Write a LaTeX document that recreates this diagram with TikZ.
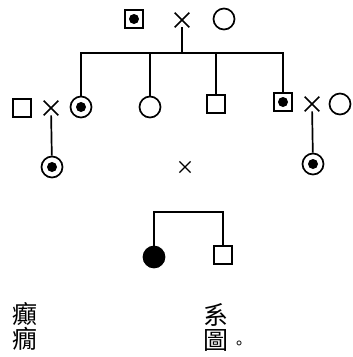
\documentclass[tikz,border=0pt]{standalone}
\usepackage{fontspec}
\newfontfamily\cjk{Noto Sans CJK TC}
\usetikzlibrary{shapes.misc}
\tikzset{
  male/.style={draw,rectangle,minimum size=18pt,inner sep=0pt},
  female/.style={draw,circle,minimum size=21pt,inner sep=0pt},
  carrier/.style={path picture={\fill (path picture bounding box.center) circle (5pt);}},
  sick/.style={fill=black},
  wed/.style={draw,cross out,minimum size=13pt,inner sep=0pt},
  glyph/.style={font=\cjk\fontsize{25}{25}\selectfont,align=center,inner sep=0pt},
}
\begin{document}
\begin{tikzpicture}[x=1pt,y=-1pt,line width=1.7pt]
  \useasboundingbox (0,0) rectangle (353,357);
  % grandparents
  \node[male,carrier] (pf) at (134,19) {};
  \node[wed] (pm) at (182,20) {};
  \node[female] (pw) at (224,19) {};
  \coordinate (sib) at (182,53);
  \draw (pm) -- (sib);
  % children
  \node[female,carrier] (c1) at (81,107) {};
  \node[female] (c2) at (150,107) {};
  \node[male] (c3) at (216,104) {};
  \node[male,carrier] (c4) at (283,102) {};
  \foreach \c in {c1,c2,c3,c4}
    \draw (sib) -| (\c);
  % the two marriages
  \node[male] (h1) at (22,108) {};
  \node[wed] (m1) at (51,108) {};
  \node[wed] (m2) at (312,104) {};
  \node[female] (w2) at (340,104) {};
  \node[female,carrier] (g1) at (52,167) {};
  \node[female,carrier] (g2) at (313,164) {};
  \draw (m1) -- (g1);
  \draw (m2) -- (g2);
  % cousins
  \node[wed,minimum size=10pt,line width=1.2pt] (m3) at (185,167) {};
  \coordinate (kin) at (188,212);
  \node[female,sick] (d1) at (154,257) {};
  \node[male] (d2) at (223,255) {};
  \draw (kin) -| (d1);
  \draw (kin) -| (d2);
  % caption
  \node[glyph] (t1) at (25,326) {癲\\癇};
  \node[glyph] (t2) at (216,327) {系\\圖};
  \node[font=\cjk\fontsize{16}{16}\selectfont,inner sep=0pt] (t3) at (239,345) {。};
\end{tikzpicture}
\end{document}
